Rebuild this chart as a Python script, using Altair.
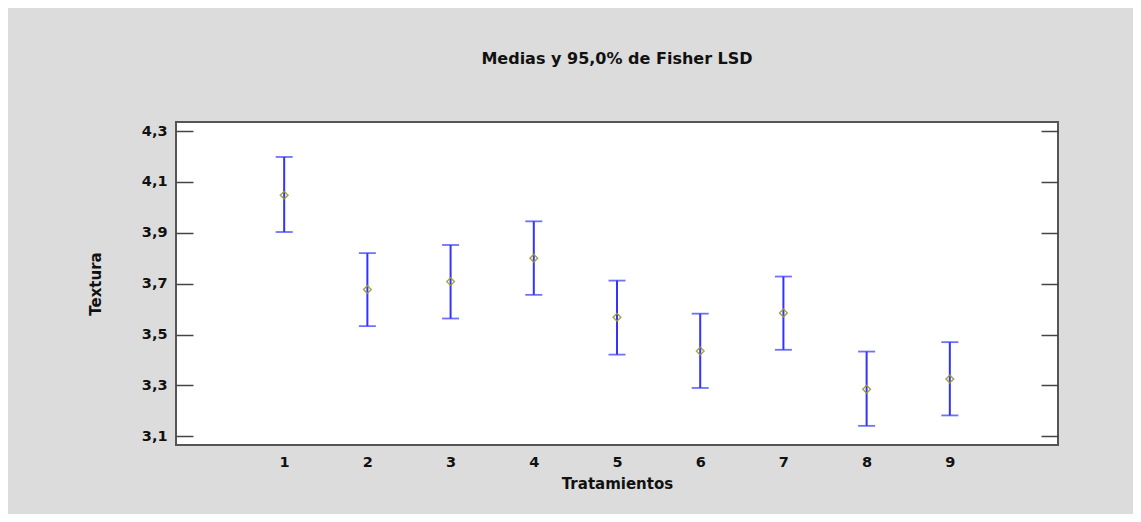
import altair as alt
import pandas as pd

tratamientos = [1, 2, 3, 4, 5, 6, 7, 8, 9]
medias = [4.048, 3.677, 3.708, 3.800, 3.568, 3.435, 3.585, 3.285, 3.325]
inferior = [3.903, 3.533, 3.563, 3.656, 3.421, 3.290, 3.440, 3.141, 3.182]
superior = [4.198, 3.820, 3.852, 3.945, 3.712, 3.582, 3.728, 3.433, 3.470]
y_ticks = [3.1, 3.3, 3.5, 3.7, 3.9, 4.1, 4.3]

df = pd.DataFrame({"Trat": tratamientos, "Media": medias, "Inf": inferior, "Sup": superior})

FONT = "DejaVu Sans"
BLUE = "#3333ff"
OLIVE = "#9c9c28"
YDOM = [3.0657, 4.3355]
XDOM = [-0.3, 10.3]
label_expr = "replace(format(datum.value, '.1f'), '.', ',')"

xenc = alt.X("Trat:Q", scale=alt.Scale(domain=XDOM, nice=False, zero=False),
             axis=alt.Axis(values=tratamientos, ticks=False, domain=False, grid=False,
                           labelFont=FONT, labelFontWeight="bold", labelFontSize=14.5,
                           labelColor="#111", labelPadding=10, format="d",
                           title="Tratamientos", titleFont=FONT, titleFontWeight="bold",
                           titleFontSize=15, titleColor="#111", titlePadding=8))
yscale = alt.Scale(domain=YDOM, nice=False, zero=False)
left_axis = alt.Axis(values=y_ticks, orient="left", offset=-17, tickSize=17, tickWidth=1.5,
                     tickColor="#444", domain=False, grid=False, labelExpr=label_expr,
                     labelFont=FONT, labelFontWeight="bold", labelFontSize=14.5, labelColor="#111",
                     labelPadding=9, title="Textura", titleFont=FONT, titleFontWeight="bold",
                     titleFontSize=15, titleColor="#111", titlePadding=38)
right_axis = alt.Axis(values=y_ticks, orient="right", offset=-17, tickSize=17, tickWidth=1.5,
                      tickColor="#444", domain=False, grid=False, labels=False, title=None)

base = alt.Chart(df)
rule = base.mark_rule(color=BLUE, strokeWidth=2).encode(
    x=xenc, y=alt.Y("Inf:Q", scale=yscale, axis=left_axis), y2="Sup:Q")
tick_lo = base.mark_tick(color=BLUE, orient="horizontal", size=17, thickness=1.8).encode(
    x="Trat:Q", y=alt.Y("Inf:Q", scale=yscale))
tick_hi = base.mark_tick(color=BLUE, orient="horizontal", size=17, thickness=1.8).encode(
    x="Trat:Q", y=alt.Y("Sup:Q", scale=yscale))
pts = base.mark_point(shape="diamond", size=60, filled=False, color=OLIVE, strokeWidth=1.2).encode(
    x="Trat:Q", y=alt.Y("Media:Q", scale=yscale))
left = alt.layer(rule, tick_lo, tick_hi, pts)
right = base.mark_point(shape="diamond", size=60, filled=False, color=OLIVE, strokeWidth=1.2).encode(
    x="Trat:Q", y=alt.Y("Media:Q", scale=yscale, axis=right_axis))

chart = alt.layer(left, right).resolve_axis(y="independent").properties(
    width=882, height=323,
    autosize=alt.AutoSizeParams(type="none"),
    padding={"left": 168, "top": 114, "right": 75, "bottom": 69},
    background="#dcdcdc",
    title=alt.TitleParams("Medias y 95,0% de Fisher LSD", font=FONT, fontWeight="bold",
                          fontSize=16, color="#111", offset=55, anchor="middle"),
).configure_view(fill="white", stroke="#555", strokeWidth=2)

chart.save("out.html", embed_options={"renderer": "svg", "actions": False})
